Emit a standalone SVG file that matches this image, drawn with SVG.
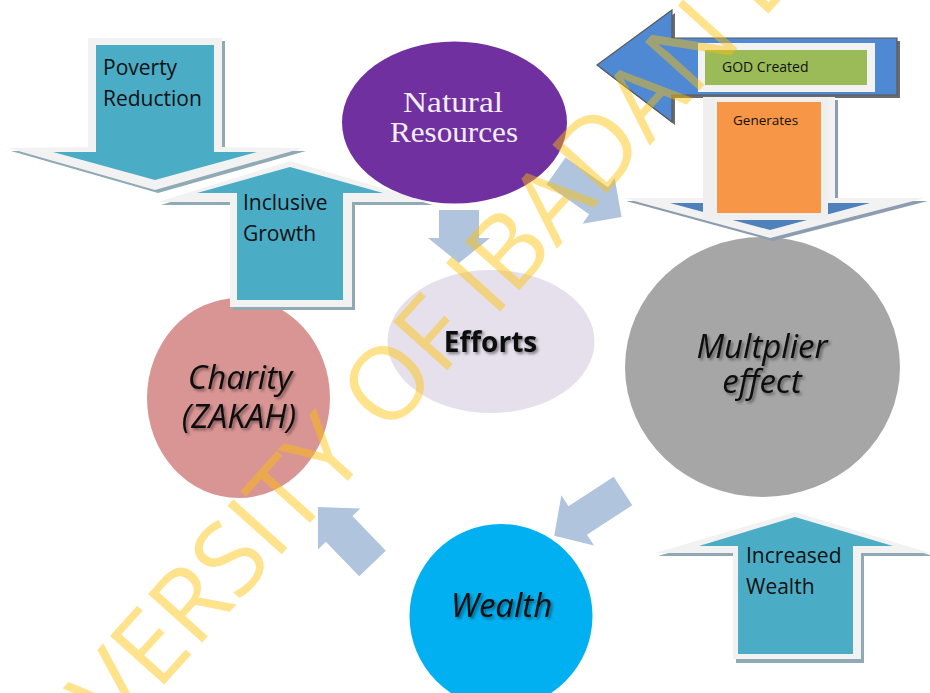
<svg xmlns="http://www.w3.org/2000/svg" width="930" height="693" viewBox="0 0 930 693">
<defs>
<filter id="ts" x="-20%" y="-20%" width="140%" height="160%">
<feDropShadow dx="2" dy="2" stdDeviation="1.4" flood-color="#000" flood-opacity="0.45"/>
</filter>
</defs>
<style>
.lbl{font-family:"Open Sans","Liberation Sans",sans-serif;fill:#111;}
.it{font-family:"Open Sans","Liberation Sans",sans-serif;font-style:italic;fill:#0d0d0d;font-size:33px;text-anchor:middle;}
.nr{font-family:"Liberation Serif",serif;font-size:30px;fill:#F2EEF6;}
.sh{fill:#8FAAB4;}
.out{fill:#F2F2F2;}
.teal{fill:#4BACC6;}
.flow{fill:#B0C4DE;}
</style>
<rect width="930" height="693" fill="#fff"/>

<g id="charity">
<ellipse cx="238.5" cy="398" rx="91.5" ry="100" fill="#D99594"/>
<text class="it" x="240" y="389" filter="url(#ts)">Charity</text>
<text class="it" x="239" y="428" filter="url(#ts)">(ZAKAH)</text>
</g>

<g id="poverty-reduction">
<polygon class="sh" points="91,41 225,41 225,150 306,151 158,193 11,151 91,150"/>
<polygon class="out" points="88,38 222,38 222,147 303,148 155,190 8,148 88,147"/>
<polygon class="teal" points="96,45 214,45 214,152 257,152 155,180 53,152 96,152"/>
<text class="lbl" x="103" y="75" font-size="21">Poverty</text>
<text class="lbl" x="103" y="106" font-size="21">Reduction</text>
</g>

<g id="inclusive-growth">
<polygon class="sh" points="293,164 433,205 355,205 355,310 233,310 233,205 161,205"/>
<polygon class="out" points="290,161 430,202 352,202 352,307 230,307 230,202 158,202"/>
<polygon class="teal" points="290,167 383,193 343,193 343,300 237,300 237,193 197,193"/>
<text class="lbl" x="243" y="210" font-size="21">Inclusive</text>
<text class="lbl" x="243" y="241" font-size="21">Growth</text>
</g>

<g id="natural-resources">
<ellipse cx="454.5" cy="122.5" rx="112.5" ry="81" fill="#7030A0"/>
<text class="nr" x="403" y="112" textLength="100" lengthAdjust="spacingAndGlyphs">Natural</text>
<text class="nr" x="390" y="142" textLength="128" lengthAdjust="spacingAndGlyphs">Resources</text>
</g>

<g id="efforts">
<ellipse cx="491" cy="341.5" rx="103.5" ry="71.5" fill="#E6E0EC"/>
<text x="490.5" y="352" font-family="'Open Sans','Liberation Sans',sans-serif" font-weight="bold" font-size="28" fill="#0d0d0d" text-anchor="middle" filter="url(#ts)">Efforts</text>
</g>

<g id="multiplier-effect">
<ellipse cx="762.5" cy="367" rx="137.5" ry="130" fill="#A6A6A6"/>
<text class="it" x="762" y="358" filter="url(#ts)">Multplier</text>
<text class="it" x="762" y="393" filter="url(#ts)">effect</text>
</g>

<g id="god-created">
<polygon points="600,68 675,13 675,41 900,41 900,98 675,98 675,125" fill="#6B6B6B"/>
<polygon points="597,65 672,10 672,38 897,38 897,95 672,95 672,122" fill="#5089D3" stroke="#5A5A5A" stroke-width="1.2"/>
<rect x="698" y="43" width="177" height="49" fill="#F2F2F2"/>
<rect x="705" y="50" width="162" height="35" fill="#9BBB59"/>
<text class="lbl" x="722" y="72" font-size="14">GOD Created</text>
</g>

<g id="generates">
<polygon points="706,100 838,100 838,201 928,201 773,241 626,201 706,201" fill="#8C9DB0"/>
<polygon class="out" points="703,97 835,97 835,198 925,198 770,238 623,198 703,198"/>
<polygon points="710,104 828,104 828,203 870,203 770,230 670,203 710,203" fill="#4F81BD"/>
<rect x="703" y="97" width="125" height="123" fill="#EFEFEF"/>
<rect x="717" y="102" width="104" height="111" fill="#F79646"/>
<text class="lbl" x="733" y="125" font-size="13.5">Generates</text>
</g>

<g id="wealth">
<ellipse cx="501" cy="616" rx="91.5" ry="92" fill="#00B0F0"/>
<text class="it" x="501.5" y="617" filter="url(#ts)">Wealth</text>
</g>

<g id="increased-wealth">
<polygon class="sh" points="798,515 933,556 864,556 864,663 736,663 736,556 658,556"/>
<polygon class="out" points="795,512 930,553 861,553 861,659 733,659 733,553 655,553"/>
<polygon class="teal" points="795,517 893,546 853,546 853,654 738,654 738,546 699,546"/>
<text class="lbl" x="746" y="563" font-size="21">Increased</text>
<text class="lbl" x="746" y="594" font-size="21">Wealth</text>
</g>

<g id="connectors">
<polygon class="flow" points="439,210 479,210 479,238 490,238 459,263 428,238 439,238"/>
<polygon class="flow" transform="translate(556,171) rotate(35)" points="0,-16.5 52,-16.5 52,-28 80,0 52,28 52,16.5 0,16.5"/>
<polygon class="flow" transform="translate(623,491) rotate(147)" points="0,-17 54,-17 54,-30 82,0 54,30 54,17 0,17"/>
<polygon class="flow" transform="translate(372.5,563.5) rotate(-134)" points="0,-18.5 48,-18.5 48,-29.5 78.5,0 48,29.5 48,18.5 0,18.5"/>
</g>

<g id="watermark">
<text transform="translate(-3.4,870.8) rotate(-48)" font-family="'Open Sans','Liberation Sans',sans-serif" font-size="102" fill="#FFC000" fill-opacity="0.45">UNIVERSITY OF IBADAN LIBRARY</text>
</g>
</svg>
